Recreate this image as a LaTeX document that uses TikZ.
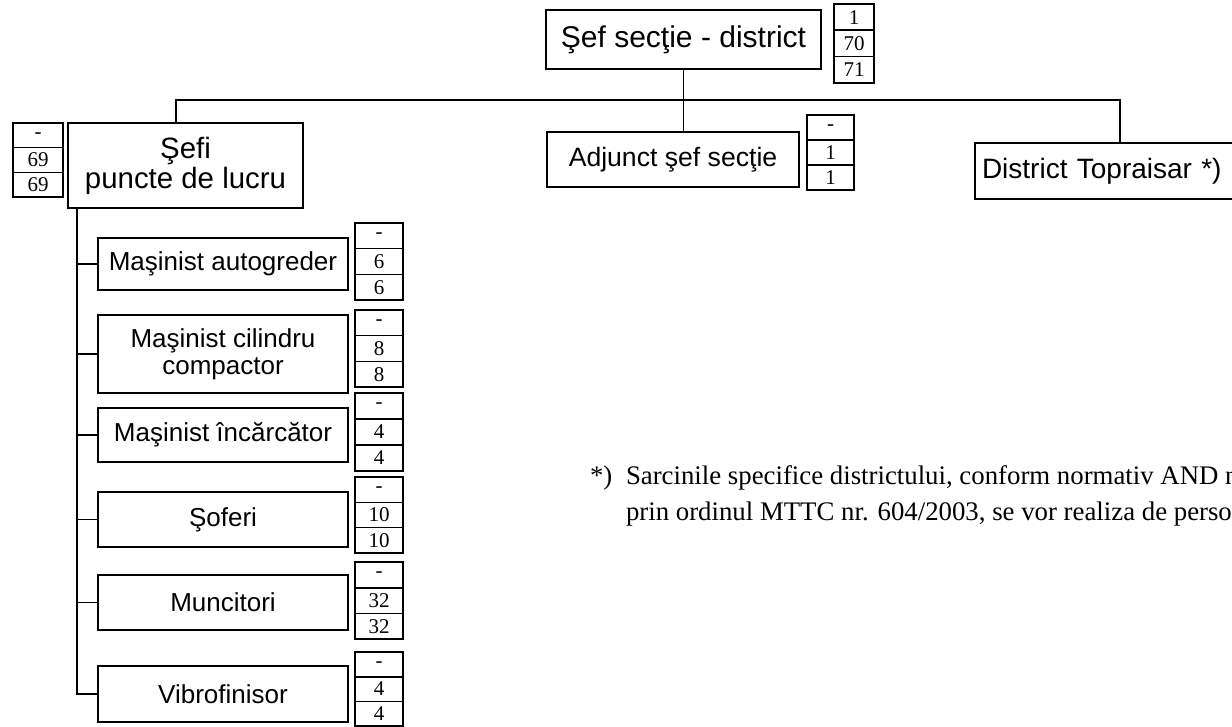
\documentclass[tikz,border=0pt]{standalone}
\usepackage{fontspec}
\setmainfont{Liberation Sans}
\newfontfamily\numfont{Liberation Serif}
\newfontfamily\footfont{Liberation Serif}
\tikzset{
  px/.style={x=0.5pt,y=-0.5pt},
  box/.style={draw, line width=0.8pt, inner sep=0pt, outer sep=0pt, align=center},
  bigbox/.style={box, font=\fontsize{15}{16}\selectfont},
  midbox/.style={box, font=\fontsize{14.7}{15}\selectfont},
  jobbox/.style={box, font=\fontsize{13}{13.5}\selectfont},
  numcell/.style={draw, line width=0.8pt, inner sep=0pt, outer sep=0pt, font=\numfont\fontsize{10.5}{11}\selectfont},
  link/.style={line width=0.8pt},
  foot/.style={inner sep=0pt, outer sep=0pt, font=\footfont\fontsize{13.4}{14}\selectfont}
}
% name, xcenter, ytop, width(px), rowheight(px), a, b, c
\newcommand{\nbox}[8]{%
  \node[numcell, minimum width=#4*0.5pt, minimum height=#5*0.5pt, anchor=north] (#1a) at (#2,#3) {#6};
  \node[numcell, minimum width=#4*0.5pt, minimum height=#5*0.5pt, anchor=north] (#1b) at (#1a.south) {#7};
  \node[numcell, minimum width=#4*0.5pt, minimum height=#5*0.5pt, anchor=north] (#1c) at (#1b.south) {#8};
}
\begin{document}
\begin{tikzpicture}[px]
\useasboundingbox (0,0) rectangle (1232,727);
\clip (0,0) rectangle (1232,727);
% top
\node[bigbox, minimum width=137.5pt, minimum height=29.5pt] (sef) at (683.5,39.5) {Şef secţie - district};
\nbox{nsef}{854}{4}{40}{26.3}{1}{70}{71}
% second level
\node[midbox, minimum width=117.5pt, minimum height=42.5pt] (sefi) at (185.5,165.5) {Şefi\\puncte de lucru};
\nbox{nsefi}{38}{123}{50}{24.7}{-}{69}{69}
\node[jobbox, font=\fontsize{13.3}{14}\selectfont, minimum width=126pt, minimum height=27.5pt] (adj) at (673,159.5) {Adjunct şef secţie};
\nbox{nadj}{830.5}{115}{47}{25}{-}{1}{1}
\node[box, font=\fontsize{14}{15}\selectfont, text width=145pt, align=left, minimum height=28pt, anchor=north west] (dist) at (975,143) {\hspace*{3.5pt}District Topraisar *)};
% children
\node[jobbox, minimum width=125pt, minimum height=26pt] (c1) at (223,264) {Maşinist autogreder};
\nbox{n1}{379}{223}{48}{25.7}{-}{6}{6}
\node[jobbox, minimum width=125pt, minimum height=39pt] (c2) at (223,354) {Maşinist cilindru\\compactor};
\nbox{n2}{379}{310}{48}{25.7}{-}{8}{8}
\node[jobbox, minimum width=125pt, minimum height=27pt] (c3) at (223,435) {Maşinist încărcător};
\nbox{n3}{379}{393}{48}{26}{-}{4}{4}
\node[jobbox, minimum width=125pt, minimum height=27.5pt] (c4) at (223,519.5) {Şoferi};
\nbox{n4}{379}{477}{48}{25.3}{-}{10}{10}
\node[jobbox, minimum width=125pt, minimum height=27.5pt] (c5) at (223,602.5) {Muncitori};
\nbox{n5}{379}{562}{48}{25.7}{-}{32}{32}
\node[jobbox, minimum width=125pt, minimum height=28pt] (c6) at (223,694) {Vibrofinisor};
\nbox{n6}{379}{652}{48}{24.7}{-}{4}{4}
% connectors
\coordinate (bl) at (176,100);
\coordinate (br) at (1120,100);
\coordinate (vt) at (77,208);
\draw[link] (sef.south) -- (sef.south |- adj.north);
\draw[link] (sefi.north -| bl) -- (bl) -- (br) -- (br |- dist.north);
\draw[link] (vt) -- (c6.west -| vt) -- (c6.west);
\foreach \c in {c1,c2,c3,c4,c5}{
  \draw[link] (\c.west -| vt) -- (\c.west);
}
% footnote
\node[foot, anchor=base west] (fa) at (590,484) {*)};
\node[foot, anchor=base west] (f1) at (626,484) {Sarcinile specifice districtului, conform normativ AND n};
\node[foot, anchor=base west] (f2) at (626,520) {prin ordinul MTTC nr. 604/2003, se vor realiza de perso};
\end{tikzpicture}
\end{document}
